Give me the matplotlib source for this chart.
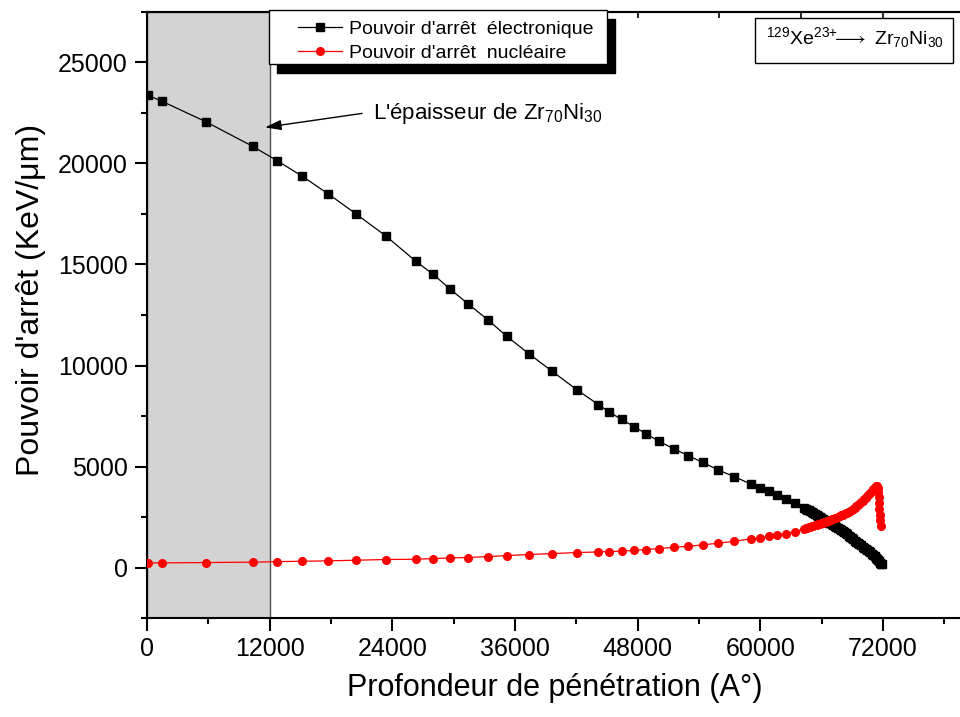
import numpy as np
import matplotlib
matplotlib.use("Agg")
import matplotlib.pyplot as plt
from matplotlib.patches import Rectangle
from matplotlib.ticker import MultipleLocator

plt.rcParams['font.family'] = ['Liberation Sans', 'DejaVu Sans']
plt.rcParams['mathtext.fontset'] = 'custom'
plt.rcParams['mathtext.rm'] = 'Liberation Sans'
plt.rcParams['mathtext.it'] = 'Liberation Sans:italic'
plt.rcParams['mathtext.bf'] = 'Liberation Sans:bold'
plt.rcParams['mathtext.fallback'] = 'stixsans'

# profondeur (A°) et pouvoir d'arret electronique (KeV/um)
depth_e = [100, 1438, 5742, 10340, 12718, 15193, 17737, 20446, 23352, 26316,
           28008, 29642, 31432, 33330, 35188, 37341, 39620, 42066, 44150, 45226,
           46439, 47672, 48816, 50117, 51526, 52954, 54363, 55830, 57454, 59059,
           59969, 60820, 61661, 62542, 63422, 64303,
           64450, 64600, 64750, 64900, 65050, 65200, 65350, 65500, 65650, 65800,
           65950, 66100, 66250, 66400, 66550, 66700, 66850, 67000, 67150, 67300,
           67450, 67600, 67750, 67900, 68050, 68200, 68350, 68500, 68650, 68800,
           68950, 69100, 69250, 69400, 69550, 69700, 69850, 70000, 70150, 70300,
           70450, 70600, 70750, 70900, 71050, 71200, 71350, 71450, 71550, 71650,
           71750, 71820, 71870]
se = [23370, 23088, 22070, 20850, 20143, 19368, 18493, 17505, 16418, 15153,
      14511, 13785, 13043, 12268, 11448, 10588, 9718, 8794, 8068, 7693,
      7327, 6966, 6621, 6240, 5879, 5534, 5203, 4842, 4496, 4135,
      3953, 3770, 3572, 3394, 3177, 2950,
      2905, 2865, 2822, 2780, 2738, 2695, 2650, 2605, 2558, 2510,
      2462, 2415, 2368, 2320, 2272, 2225, 2180, 2135, 2090, 2045,
      2000, 1955, 1908, 1860, 1805, 1750, 1693, 1635, 1575, 1515,
      1453, 1390, 1330, 1270, 1213, 1155, 1095, 1035, 978, 920,
      862, 805, 745, 685, 625, 560, 495, 440, 380, 310,
      230, 180, 150]

# pouvoir d'arret nucleaire
depth_n = [100, 1438, 5742, 10340, 12718, 15193, 17737, 20446, 23352, 26316,
           28008, 29642, 31432, 33330, 35188, 37341, 39620, 42066, 44150, 45226,
           46439, 47672, 48816, 50117, 51526, 52954, 54363, 55830, 57454, 59059,
           59969, 60820, 61661, 62542, 63422, 64303,
           64450, 64600, 64750, 64900, 65050, 65200, 65350, 65500, 65650, 65800,
           65950, 66100, 66250, 66400, 66550, 66700, 66850, 67000, 67150, 67300,
           67450, 67600, 67750, 67900, 68050, 68200, 68350, 68500, 68650, 68800,
           68950, 69100, 69250, 69400, 69550, 69700, 69850, 70000, 70150, 70300,
           70450, 70600, 70750, 70900, 71050, 71200, 71320, 71430, 71480, 71530,
           71570, 71610, 71650, 71690, 71730, 71780]
sn = [225, 228, 245, 265, 290, 310, 330, 360, 395, 410,
      440, 475, 495, 540, 590, 640, 690, 740, 770, 790,
      810, 850, 890, 940, 1000, 1050, 1120, 1200, 1300, 1415,
      1465, 1545, 1615, 1680, 1780, 1910,
      1938, 1965, 1990, 2015, 2040, 2065, 2090, 2115, 2142, 2170,
      2195, 2220, 2245, 2270, 2298, 2325, 2352, 2380, 2410, 2440,
      2472, 2505, 2540, 2575, 2612, 2650, 2685, 2720, 2760, 2800,
      2850, 2905, 2960, 3020, 3090, 3160, 3230, 3300, 3380, 3460,
      3540, 3620, 3705, 3790, 3870, 3950, 4010, 4050, 3950, 3750,
      3500, 3200, 2900, 2600, 2330, 2050]

epaisseur = 12000

fig = plt.figure(figsize=(9.6, 7.17), dpi=100)
ax = fig.add_axes([147/960, 99/717, 815/960, 606/717])


def frac(px, py):
    # pixel position -> axes fraction
    return (px - 147) / 815, (618 - py) / 606


ax.axvspan(0, epaisseur, facecolor='#d3d3d3', edgecolor='#505050', lw=1, zorder=0.5)

ax.plot(depth_e, se, color='black', lw=0.9, marker='s', ms=5.2,
        mec='black', mfc='black', label="Pouvoir d'arrêt  électronique", zorder=3)
ax.plot(depth_n, sn, color='red', lw=0.9, marker='o', ms=5.5,
        mec='red', mfc='red', label="Pouvoir d'arrêt  nucléaire", zorder=3)

ax.set_xlim(0, 79730)
ax.set_ylim(-2500, 27500)
ax.set_xticks(np.arange(0, 72001, 12000))
ax.xaxis.set_minor_locator(MultipleLocator(6000))
ax.set_yticks(np.arange(0, 25001, 5000))
ax.yaxis.set_minor_locator(MultipleLocator(2500))

for s in ax.spines.values():
    s.set_linewidth(1.5)
ax.tick_params(which='major', direction='out', length=9, width=1.5,
               labelsize=18, pad=5, top=False, right=False)
ax.tick_params(which='minor', direction='out', length=4.5, width=1.5,
               top=False, right=False)

top = ax.secondary_xaxis('top')
top.set_xticks(np.arange(0, 79000, 8000))
top.tick_params(direction='in', length=4, width=1.2, labeltop=False)
top.spines['top'].set_linewidth(1.5)

ax.set_xlabel('Profondeur de pénétration (A°)', fontsize=22, labelpad=8)
ax.set_ylabel("Pouvoir d'arrêt (KeV/μm)", fontsize=23)
ax.yaxis.set_label_coords(-0.124, 0.525)

# annotation de l'epaisseur de la cible
ax.annotate('', xy=(11544, 21789), xytext=(21037, 22480),
            arrowprops=dict(arrowstyle='-|>,head_length=0.7,head_width=0.22',
                            color='black', lw=1, mutation_scale=14,
                            shrinkA=0, shrinkB=0))
ax.text(22110, 22480, "L'épaisseur de Zr$_{70}$Ni$_{30}$", fontsize=16,
        ha='left', va='center')

# legende avec ombre
x0, y1 = frac(269, 10)
x1, y0 = frac(607, 64)
sx, sy = 8 / 815, 9 / 606
ax.add_patch(Rectangle((x0 + sx, y0 - sy), x1 - x0, y1 - y0, transform=ax.transAxes,
                       facecolor='black', edgecolor='black', clip_on=False, zorder=6))
ax.add_patch(Rectangle((x0, y0), x1 - x0, y1 - y0, transform=ax.transAxes,
                       facecolor='white', edgecolor='black', lw=1, clip_on=False, zorder=7))
leg = ax.legend(loc='upper left', bbox_to_anchor=frac(298, 20), frameon=False,
                fontsize=14, borderpad=0, borderaxespad=0, handlelength=2.26,
                handletextpad=0.36, labelspacing=0.36)
leg.set_zorder(8)

# reaction
bx0, by1 = frac(755, 18)
bx1, by0 = frac(953, 63)
ax.add_patch(Rectangle((bx0, by0), bx1 - bx0, by1 - by0, transform=ax.transAxes,
                       facecolor='white', edgecolor='black', lw=1, clip_on=False, zorder=7))
tx, ty = frac(855, 44)
ax.text(tx, ty, r'$^{129}$Xe$^{23{+}}\!\!\longrightarrow$ Zr$_{70}$Ni$_{30}$',
        transform=ax.transAxes, fontsize=14, ha='center', va='baseline', zorder=8)

fig.savefig('out.png', dpi=100)
